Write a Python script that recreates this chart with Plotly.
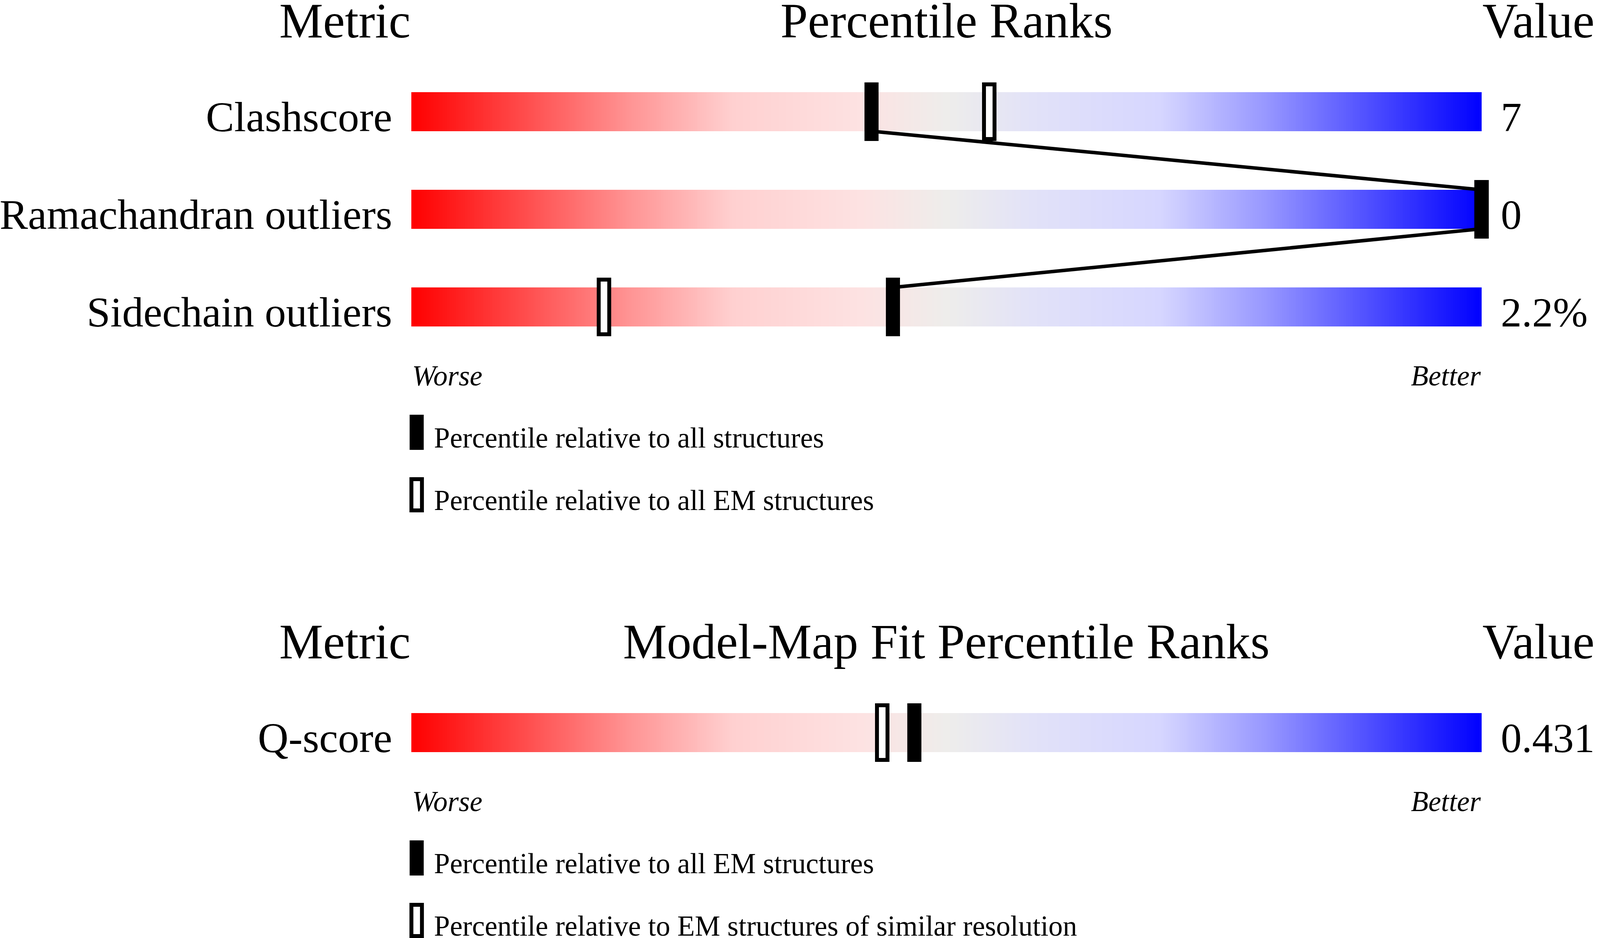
import numpy as np
import plotly.graph_objects as go

# ---------------- data ----------------
metrics_geom = ["Clashscore", "Ramachandran outliers", "Sidechain outliers"]
pct_geom_all = [43, 100, 45]      # filled marker: relative to all structures
pct_geom_em = [54, 100, 18]       # open marker: relative to all EM structures
values_geom = ["7", "0", "2.2%"]
legend_geom = ["Percentile relative to all structures",
               "Percentile relative to all EM structures"]
headers_geom = ["Metric", "Percentile Ranks", "Value"]

metrics_fit = ["Q-score"]
pct_fit_all_em = [47]             # filled marker: relative to all EM structures
pct_fit_similar = [44]            # open marker: EM structures of similar resolution
values_fit = ["0.431"]
legend_fit = ["Percentile relative to all EM structures",
              "Percentile relative to EM structures of similar resolution"]
headers_fit = ["Metric", "Model-Map Fit Percentile Ranks", "Value"]

scale_labels = ["Worse", "Better"]

# ---------------- geometry ----------------
# The browser viewport is 4096 px wide, so the reference layout (4485 px wide)
# is mapped horizontally onto 4096 px; vertical pixels are kept.
REF_W = 4485
W, H = 4096, 2402
SX = W / REF_W
X0 = 1153          # reference pixel of percentile 0
PX = 30.0          # reference pixels per percentile unit
BAR_H = 100
BAR_GAP = 250
MARK_EXT = 25
MARK_W = 39.5
OPEN_LW = 10
FONT = "Liberation Serif"
S_HEAD, S_LAB, S_VAL, S_SMALL = [round(s * SX, 1) for s in (138, 119, 117, 80)]


def u(px):
    """reference-pixel width -> percentile units"""
    return px / PX


def ymid(baseline, size):
    return baseline - 0.3375 * size


colorscale = [
    [0.00, "rgb(255,0,0)"], [0.10, "rgb(255,72,72)"], [0.20, "rgb(255,145,145)"],
    [0.30, "rgb(255,208,208)"], [0.42, "rgb(253,226,226)"], [0.50, "rgb(238,237,235)"],
    [0.58, "rgb(226,226,248)"], [0.70, "rgb(214,214,255)"], [0.80, "rgb(150,150,255)"],
    [0.90, "rgb(75,75,255)"], [1.00, "rgb(0,0,255)"],
]

fig = go.Figure()
shapes = []
annotations = []
edges = np.linspace(0, 100, 601)
centers = (edges[:-1] + edges[1:]) / 2


def add_panel(head_base, first_top, metrics, p_fill, p_open, values, headers, legends):
    tops = [first_top + i * BAR_GAP for i in range(len(metrics))]
    bots = [t + BAR_H for t in tops]
    hy = ymid(head_base, S_HEAD)
    annotations.append(dict(x=0, y=hy, text=headers[0], xanchor="right", font=dict(size=S_HEAD)))
    annotations.append(dict(x=50, y=hy, text=headers[1], xanchor="center", font=dict(size=S_HEAD)))
    annotations.append(dict(x=100, y=hy, text=headers[2], xanchor="left", font=dict(size=S_HEAD)))
    # gradient bars
    for t, b in zip(tops, bots):
        fig.add_trace(go.Heatmap(x=edges, y=[t, b], z=[centers], zmin=0, zmax=100,
                                 colorscale=colorscale, showscale=False, hoverinfo="skip"))
    # line joining the filled markers
    if len(metrics) > 1:
        lx, ly = [], []
        for i in range(len(metrics)):
            if i > 0:
                lx.append(p_fill[i]); ly.append(tops[i])
            if i < len(metrics) - 1:
                lx.append(p_fill[i]); ly.append(bots[i])
        fig.add_trace(go.Scatter(x=lx, y=ly, mode="lines", line=dict(color="black", width=9),
                                 hoverinfo="skip"))
    # markers, labels, values
    for i in range(len(metrics)):
        t, b = tops[i], bots[i]
        po = p_open[i]
        shapes.append(dict(type="rect", x0=po - u(MARK_W / 2 - OPEN_LW / 2), x1=po + u(MARK_W / 2 - OPEN_LW / 2),
                           y0=t - MARK_EXT + OPEN_LW / 2, y1=b + MARK_EXT - OPEN_LW / 2,
                           fillcolor="white", line=dict(color="black", width=OPEN_LW)))
        pf = p_fill[i]
        shapes.append(dict(type="rect", x0=pf - u(MARK_W / 2), x1=pf + u(MARK_W / 2),
                           y0=t - MARK_EXT, y1=b + MARK_EXT, fillcolor="black", line=dict(width=0)))
        annotations.append(dict(x=u(-51), y=ymid(b, S_LAB), text=metrics[i], xanchor="right",
                                font=dict(size=S_LAB)))
        annotations.append(dict(x=100 + u(52), y=ymid(b, S_VAL), text=values[i], xanchor="left",
                                font=dict(size=S_VAL)))
    last = bots[-1]
    annotations.append(dict(x=0, y=ymid(last + 151, S_SMALL), text="<i>%s</i>" % scale_labels[0],
                            xanchor="left", font=dict(size=S_SMALL)))
    annotations.append(dict(x=100, y=ymid(last + 151, S_SMALL), text="<i>%s</i>" % scale_labels[1],
                            xanchor="right", font=dict(size=S_SMALL)))
    # legend
    for k, txt in enumerate(legends):
        mt = last + 226 + 160 * k
        mb = mt + 90
        cx = u(15)
        if k == 0:
            shapes.append(dict(type="rect", x0=cx - u(MARK_W / 2), x1=cx + u(MARK_W / 2),
                               y0=mt, y1=mb, fillcolor="black", line=dict(width=0)))
        else:
            shapes.append(dict(type="rect", x0=cx - u(MARK_W / 2 - OPEN_LW / 2), x1=cx + u(MARK_W / 2 - OPEN_LW / 2),
                               y0=mt + OPEN_LW / 2, y1=mb - OPEN_LW / 2,
                               fillcolor="white", line=dict(color="black", width=OPEN_LW)))
        annotations.append(dict(x=u(61), y=ymid(mb - 6, S_SMALL), text=txt, xanchor="left",
                                font=dict(size=S_SMALL)))


add_panel(96, 236, metrics_geom, pct_geom_all, pct_geom_em, values_geom, headers_geom, legend_geom)
add_panel(1686, 1826, metrics_fit, pct_fit_all_em, pct_fit_similar, values_fit, headers_fit, legend_fit)

for a in annotations:
    a.update(xref="x", yref="y", showarrow=False, yanchor="middle")
    a["font"].update(family=FONT, color="black")

fig.update_layout(
    width=W, height=H,
    margin=dict(l=0, r=0, t=0, b=0, pad=0),
    paper_bgcolor="white", plot_bgcolor="white",
    showlegend=False,
    xaxis=dict(range=[-X0 / PX, (REF_W - X0) / PX], visible=False, fixedrange=True),
    yaxis=dict(range=[H, 0], visible=False, fixedrange=True),
    shapes=shapes,
    annotations=annotations,
)

fig.write_html("out.html", config={"displayModeBar": False},
               post_script="document.body.style.margin='0px';")
